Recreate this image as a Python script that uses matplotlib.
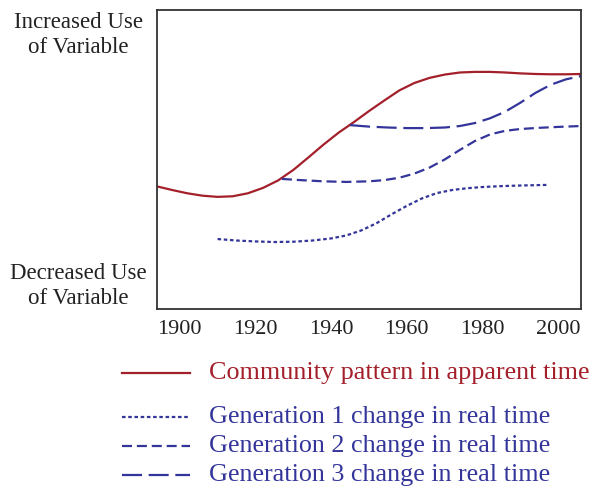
import matplotlib
matplotlib.use("Agg")
import matplotlib.pyplot as plt
from matplotlib.lines import Line2D

# Data
red_years = [1894, 1898, 1902, 1906, 1910, 1914, 1918, 1922, 1926, 1930, 1934, 1938, 1942, 1946,
             1950, 1954, 1958, 1962, 1966, 1970, 1974, 1978, 1982, 1986, 1990, 1994, 1998, 2002, 2006]
red_vals = [0.410, 0.398, 0.387, 0.379, 0.375, 0.377, 0.387, 0.405, 0.430, 0.465, 0.507, 0.550,
            0.590, 0.625, 0.662, 0.697, 0.731, 0.756, 0.773, 0.784, 0.791, 0.793, 0.793, 0.791,
            0.788, 0.786, 0.785, 0.785, 0.786]

gen3_years = [1945, 1950, 1955, 1960, 1965, 1970, 1974, 1978, 1982, 1986, 1990, 1994, 1998, 2002, 2006]
gen3_vals = [0.615, 0.610, 0.607, 0.605, 0.605, 0.607, 0.612, 0.622, 0.638, 0.660, 0.690, 0.723,
             0.750, 0.768, 0.779]

gen2_years = [1927, 1932, 1938, 1944, 1950, 1954, 1958, 1962, 1966, 1970, 1974, 1978, 1982, 1986,
              1990, 1995, 2000, 2006]
gen2_vals = [0.435, 0.431, 0.427, 0.425, 0.427, 0.431, 0.439, 0.453, 0.473, 0.500, 0.532, 0.562,
             0.584, 0.596, 0.602, 0.606, 0.609, 0.612]

gen1_years = [1910, 1915, 1920, 1925, 1930, 1935, 1940, 1944, 1948, 1952, 1956, 1960, 1964, 1968,
              1972, 1976, 1980, 1985, 1990, 1997]
gen1_vals = [0.234, 0.229, 0.226, 0.224, 0.225, 0.229, 0.236, 0.246, 0.263, 0.287, 0.317, 0.345,
             0.370, 0.388, 0.398, 0.404, 0.408, 0.411, 0.413, 0.415]

x_ticks = [1900, 1920, 1940, 1960, 1980, 2000]
legend_labels = ["Community pattern in apparent time",
                 "Generation 1 change in real time",
                 "Generation 2 change in real time",
                 "Generation 3 change in real time"]

RED = "#a3202b"
BLUE = "#34359a"
TEXT = "#222222"
plt.rcParams['font.family'] = ["Liberation Serif", 'DejaVu Serif']

fig = plt.figure(figsize=(6, 4.88), dpi=100)
ax = fig.add_axes([157/600, 1 - 309/488, (581-157)/600, (309-10)/488])

lw = 1.6
ax.plot(red_years, red_vals, color=RED, lw=lw, solid_joinstyle='round')
ax.plot(gen1_years, gen1_vals, color=BLUE, lw=lw, dashes=(1.6, 1.2))
ax.plot(gen2_years, gen2_vals, color=BLUE, lw=lw, dashes=(4.5, 2.2))
ax.plot(gen3_years, gen3_vals, color=BLUE, lw=lw, dashes=(9, 3))

ax.set_xlim(1894, 2006)
ax.set_ylim(0, 1)
ax.set_xticks(x_ticks)
ax.set_xticklabels([str(t) for t in x_ticks], fontsize=16, color=TEXT)
ax.tick_params(axis='x', length=0, pad=8)
ax.set_yticks([])
for s in ax.spines.values():
    s.set_color("#333333")
    s.set_linewidth(1.3)

fig.text(78/600, 1 - 35/488, "Increased Use\nof Variable", ha='center', va='center',
         fontsize=16.5, color=TEXT, linespacing=1.25)
fig.text(78/600, 1 - 286/488, "Decreased Use\nof Variable", ha='center', va='center',
         fontsize=16.5, color=TEXT, linespacing=1.25)

# Legend
rows_y = [373, 417, 446, 475]
styles = [dict(color=RED), dict(color=BLUE, dashes=(1.6, 1.2)),
          dict(color=BLUE, dashes=(4.5, 2.2)), dict(color=BLUE, dashes=(9, 3))]
colors = [RED, BLUE, BLUE, BLUE]
for y, st, lab, c in zip(rows_y, styles, legend_labels, colors):
    yf = 1 - y/488
    fig.add_artist(Line2D([122/600, 190/600], [yf, yf], lw=lw, transform=fig.transFigure, **st))
    fig.text(209/600, yf, lab, ha='left', va='center', fontsize=18.8, color=c)

fig.savefig("out.png", dpi=100)
